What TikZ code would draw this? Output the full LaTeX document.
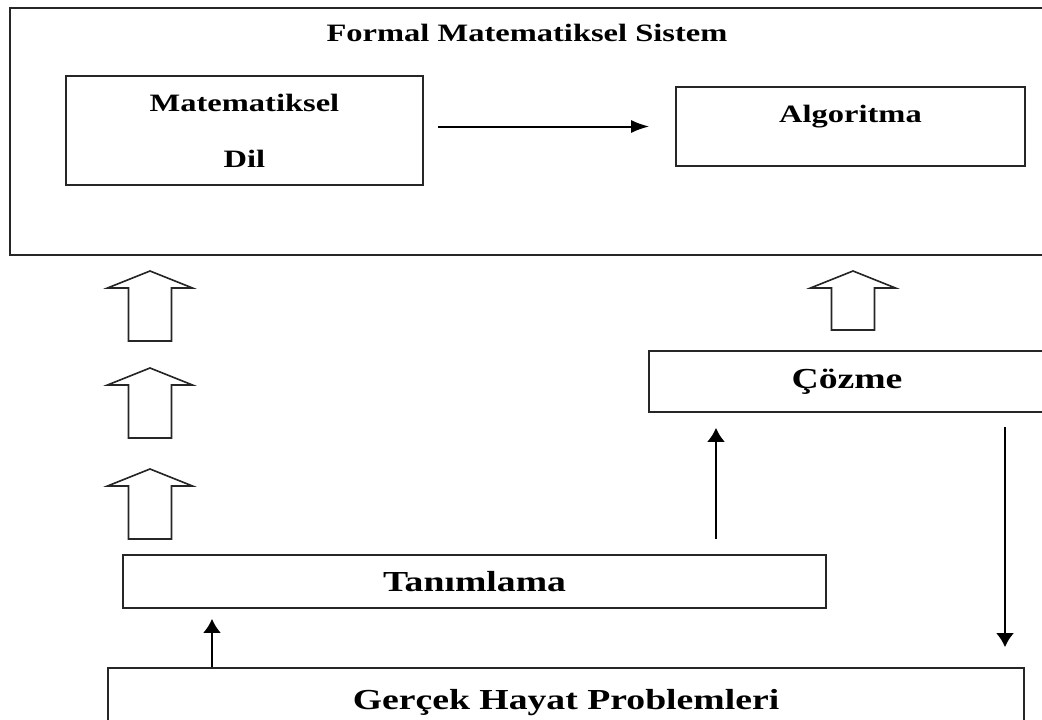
\documentclass[tikz,border=0pt]{standalone}
\usepackage{fontspec}
\setmainfont{Liberation Serif}
\usepackage{graphicx}
\usetikzlibrary{arrows.meta,calc}

\newcommand{\genis}[1]{\scalebox{1.3}[1]{#1}}

\tikzset{
  kutu/.style={draw=black!85, line width=1.6pt, inner sep=0pt},
  yazi/.style={font=\bfseries\fontsize{25}{30}\selectfont},
  buyukyazi/.style={font=\bfseries\fontsize{29}{34}\selectfont},
  ok/.style={line width=2.5pt, -{Latex[length=14pt,width=18pt]}},
  okyatay/.style={line width=2pt, -{Latex[length=18pt,width=13pt]}},
  blok/.style={draw=black!85, line width=1.6pt, line join=miter},
}

\begin{document}
\begin{tikzpicture}[x=1pt, y=-1pt]
    \useasboundingbox (0,0) rectangle (1042,720);
    \clip (0,0) rectangle (1042,720);

    % ust sistem
    \node[kutu, minimum width=1042pt, minimum height=247pt] (sistem) at (531,131.5) {};
    \node[yazi] (baslik) at (527,33) {\genis{Formal Matematiksel Sistem}};
    \node[kutu, yazi, minimum width=357pt, minimum height=109pt,
        align=center, font=\bfseries\fontsize{25}{56}\selectfont] (dil) at (244.5,130.5)
        {\genis{Matematiksel}\\\genis{Dil}};
    \node[kutu, minimum width=349pt, minimum height=79pt] (algoritma) at (850.5,126.5) {};
    \node[yazi] (algoritmayazi) at ([yshift=9.5pt]algoritma.center) {\genis{Algoritma}};
    \draw[okyatay] ($(dil.east |- algoritma.west)+(14,0)$) -- ($(algoritma.west)+(-26,0)$);

    % bos oklar
    \foreach \x/\y/\h in {150/271/70, 150/368/70, 150/469/70, 853/271/59}
        \draw[blok] (\x,\y) -- ++(42.5,17) -- ++(-21,0) -- ++(0,\h-17)
            -- ++(-43,0) -- ++(0,17-\h) -- ++(-21,0) -- cycle;

    % alt kutular
    \node[kutu, buyukyazi, minimum width=396pt, minimum height=61pt] (cozme) at (847,381.5)
        {\genis{Çözme}};
    \node[kutu, buyukyazi, minimum width=703pt, minimum height=53pt] (tanimlama) at (474.5,581.5)
        {\genis{Tanımlama}};
    \node[kutu, buyukyazi, minimum width=916pt, minimum height=70pt] (gercek) at (566,703)
        {\genis{Gerçek Hayat Problemleri}};

    \draw[ok] (212,0 |- gercek.north) -- ($(212,0 |- tanimlama.south)+(0,10)$);
    \draw[ok] ($(716,0 |- tanimlama.north)+(0,-15)$) -- ($(716,0 |- cozme.south)+(0,15)$);
    \draw[ok] ($(1005,0 |- cozme.south)+(0,14)$) -- ($(1005,0 |- gercek.north)+(0,-20)$);
\end{tikzpicture}
\end{document}
